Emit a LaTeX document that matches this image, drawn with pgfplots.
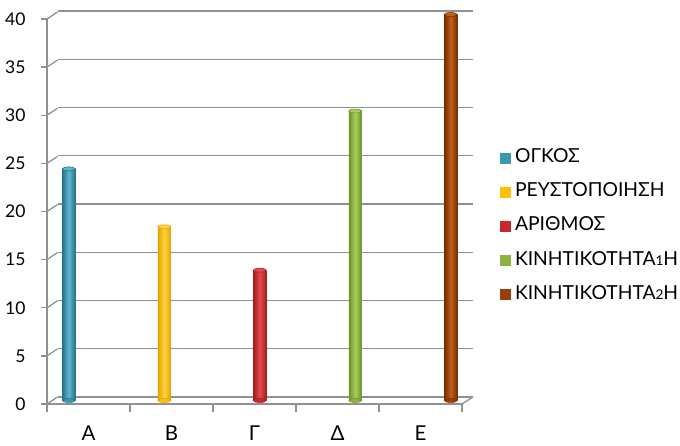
\documentclass[border=0pt]{standalone}
\usepackage{fontspec}
\setmainfont{Lato}
\usepackage{pgfplots}
\pgfplotsset{compat=1.18}
\definecolor{gridgray}{RGB}{145,145,145}
\definecolor{tealD}{RGB}{35,115,137}\definecolor{tealL}{RGB}{95,182,205}\definecolor{tealM}{RGB}{60,150,175}
\definecolor{yelD}{RGB}{230,160,0}\definecolor{yelL}{RGB}{255,214,60}\definecolor{yelM}{RGB}{255,192,0}
\definecolor{redD}{RGB}{165,28,32}\definecolor{redL}{RGB}{230,75,75}\definecolor{redM}{RGB}{200,40,45}
\definecolor{grnD}{RGB}{110,145,40}\definecolor{grnL}{RGB}{170,205,95}\definecolor{grnM}{RGB}{140,180,60}
\definecolor{brnD}{RGB}{120,45,0}\definecolor{brnL}{RGB}{190,95,30}\definecolor{brnM}{RGB}{150,65,10}
\pgfplotsset{
  cyl/.style n args={2}{ybar, forget plot, bar width=13pt, bar shift=0pt, draw=none,
     left color=#1, right color=#1, middle color=#2},
  captop/.style n args={2}{only marks, forget plot, mark=*, mark size=6.5pt,
     mark options={yscale=0.3, fill=#2, draw=#1, line width=0.6pt}},
  swatch/.style={legend image code/.code={\fill[#1, draw=none] (0pt,-5.5pt) rectangle (11pt,5.5pt);\path[draw=none, fill=none] (0pt,0pt) -- (14pt,0pt);}},
}
\begin{document}
\begin{tikzpicture}
\path[use as bounding box] (0pt,0pt) rectangle (680pt,446pt);
% back wall with grid lines
\begin{axis}[at={(57.5pt,49pt)}, anchor=south west, scale only axis,
  width=415.5pt, height=386pt, xmin=0, xmax=1, ymin=0, ymax=40,
  ytick={0,5,...,40}, yticklabels={}, xtick=\empty,
  axis line style={draw=none}, tick style={draw=none},
  ymajorgrids, major grid style={gridgray, line width=1.3pt}]
\end{axis}
% front axis, floor, labels
\begin{axis}[at={(47pt,42pt)}, anchor=south west, scale only axis,
  width=415pt, height=385pt, xmin=0, xmax=5, ymin=0, ymax=40,
  axis lines=left, axis line style={-, gridgray, line width=1.3pt},
  clip=false,
  ytick={0,5,...,40},
  xtick={0.5,1.5,...,4.5}, xticklabels={Α,Β,Γ,Δ,Ε},
  tick align=outside, major tick length=6pt,
  ytick style={gridgray, line width=1.3pt},
  xtick style={draw=none},
  extra x ticks={0,1,...,5}, extra x tick labels={},
  extra x tick style={major tick length=8pt, xtick style={draw=gridgray, line width=1.3pt}},
  /pgf/number format/assume math mode=true,
  yticklabel style={font=\fontsize{17.5}{17.5}\selectfont, xshift=-12pt},
  xticklabel style={font=\fontsize{20.5}{20.5}\selectfont, yshift=-12pt},
]
\pgfplotsinvokeforeach{0,5,...,40}{\draw[gridgray, line width=1.3pt] (axis cs:0,#1) -- ++(10.5pt,7pt);}
\draw[gridgray, line width=1.3pt] (axis cs:5,0) -- ++(11pt,7pt);
\end{axis}
% bars
\begin{axis}[at={(52.25pt,45.5pt)}, anchor=south west, scale only axis,
  width=415.5pt, height=386pt, xmin=-0.173, xmax=4.178, ymin=0, ymax=40,
  hide axis, clip=false,
  legend style={at={(1.07,0.451)}, anchor=west, draw=none, fill=none,
    font=\fontsize{19.3}{22}\selectfont, row sep=17.2pt,
    nodes={inner sep=1pt, text height=12pt, text depth=3pt}},
  legend cell align=left]
\addplot[captop={tealD}{tealM}] coordinates {(0,0)};
\addplot[cyl={tealD}{tealL}] coordinates {(0,24)};
\addplot[captop={tealD}{tealL}] coordinates {(0,24)};
\addplot[captop={yelD}{yelM}] coordinates {(1,0)};
\addplot[cyl={yelD}{yelL}] coordinates {(1,18)};
\addplot[captop={yelD}{yelL}] coordinates {(1,18)};
\addplot[captop={redD}{redM}] coordinates {(2,0)};
\addplot[cyl={redD}{redL}] coordinates {(2,13.5)};
\addplot[captop={redD}{redL}] coordinates {(2,13.5)};
\addplot[captop={grnD}{grnM}] coordinates {(3,0)};
\addplot[cyl={grnD}{grnL}] coordinates {(3,30)};
\addplot[captop={grnD}{grnL}] coordinates {(3,30)};
\addplot[captop={brnD}{brnM}] coordinates {(4,0)};
\addplot[cyl={brnD}{brnL}] coordinates {(4,40)};
\addplot[captop={brnD}{brnL}] coordinates {(4,40)};
\addlegendimage{swatch=tealM}\addlegendentry{ΟΓΚΟΣ}
\addlegendimage{swatch=yelM}\addlegendentry{ΡΕΥΣΤΟΠΟΙΗΣΗ}
\addlegendimage{swatch=redM}\addlegendentry{ΑΡΙΘΜΟΣ}
\addlegendimage{swatch=grnM}\addlegendentry{ΚΙΝΗΤΙΚΟΤΗΤΑ{\fontsize{13.5}{13.5}\selectfont 1}Η}
\addlegendimage{swatch=brnM}\addlegendentry{ΚΙΝΗΤΙΚΟΤΗΤΑ{\fontsize{13.5}{13.5}\selectfont 2}Η}
\end{axis}
\end{tikzpicture}
\end{document}
